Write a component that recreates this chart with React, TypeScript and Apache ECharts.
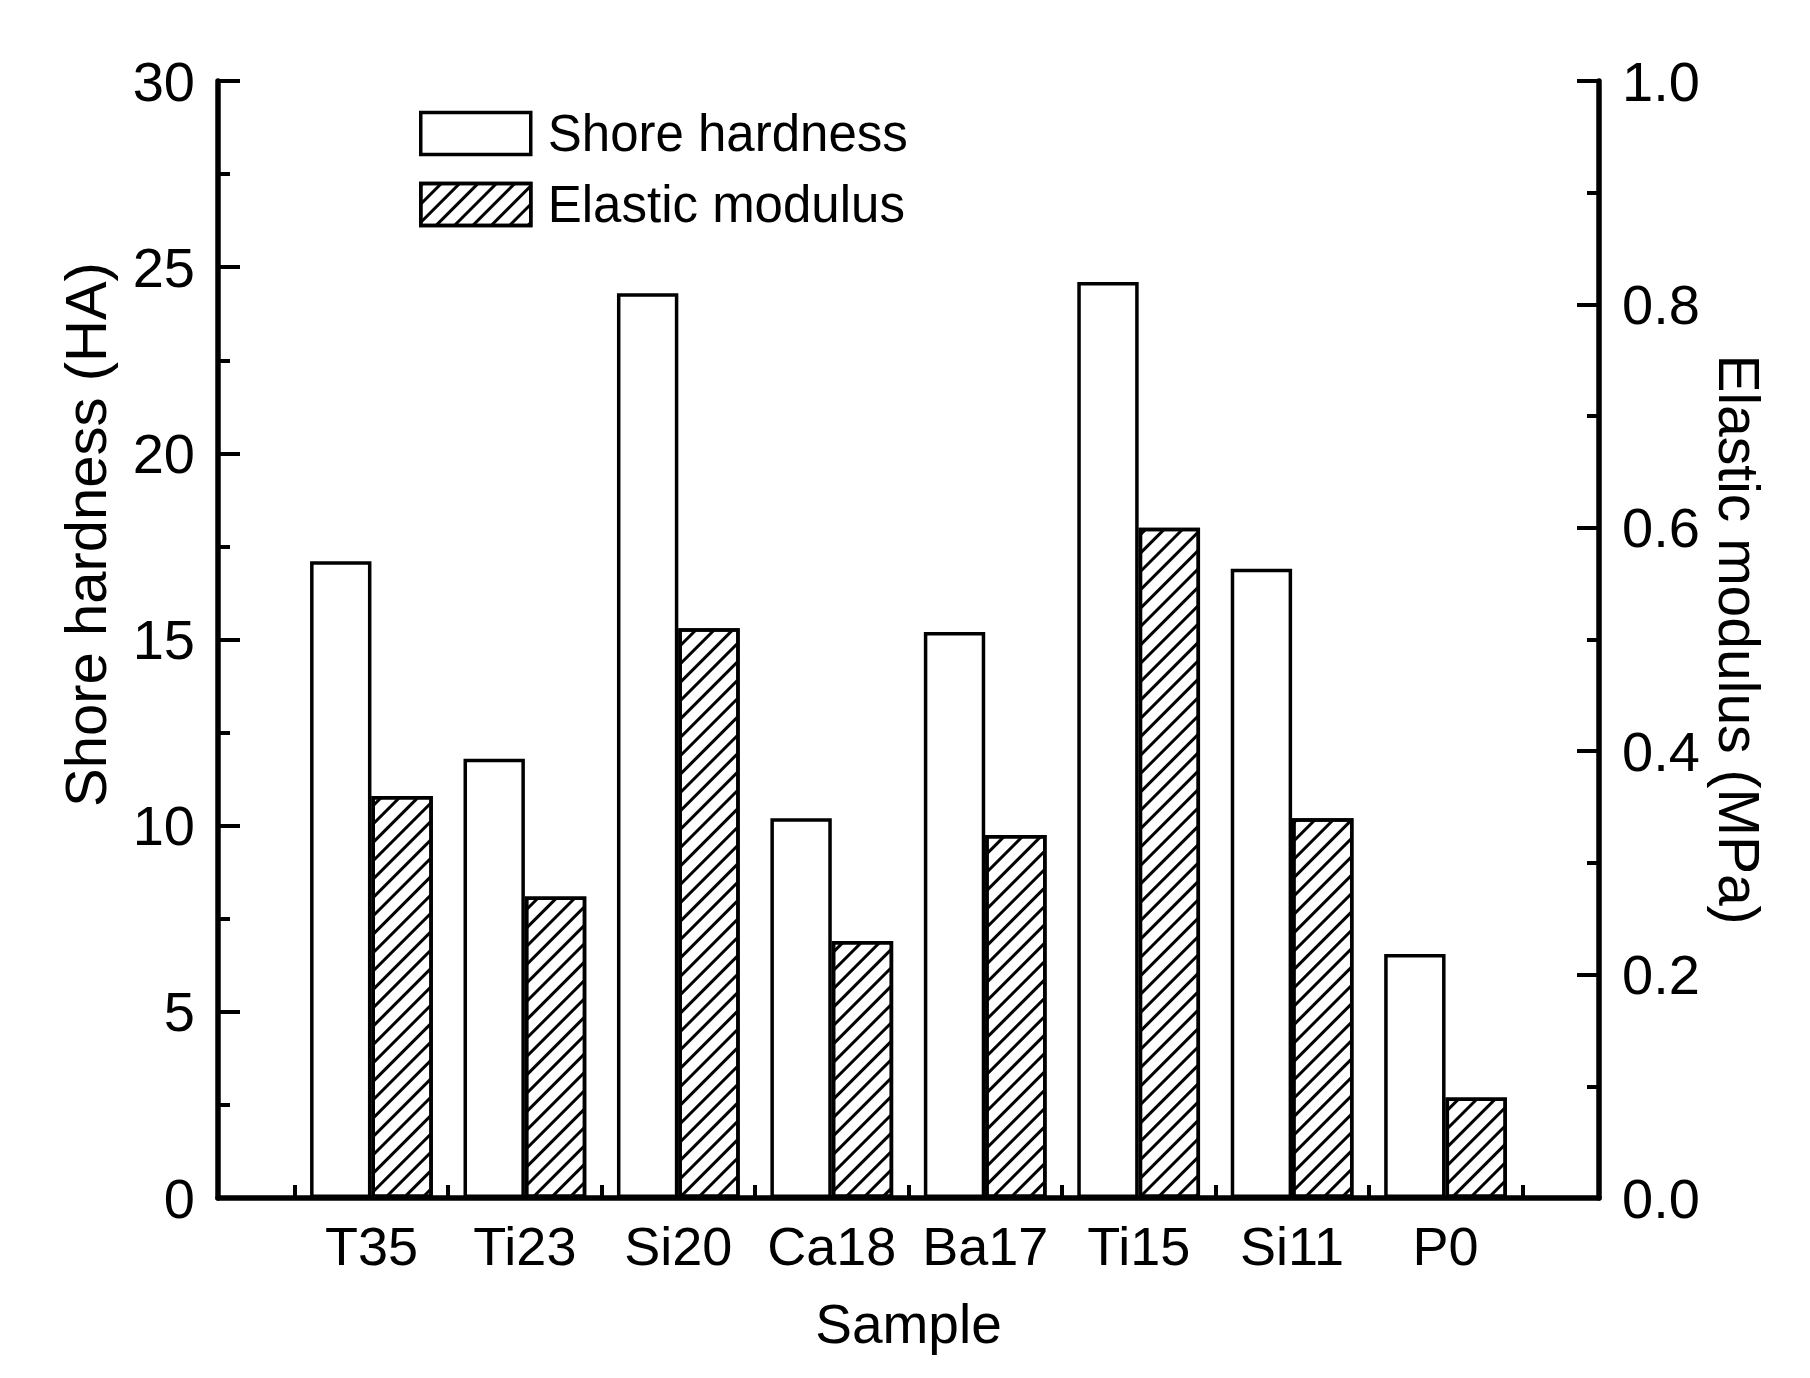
import React, { useEffect, useRef } from 'react';
import * as echarts from 'echarts';

const categories = ['T35', 'Ti23', 'Si20', 'Ca18', 'Ba17', 'Ti15', 'Si11', 'P0'];
const shoreHardness = [17.1, 11.8, 24.3, 10.2, 15.2, 24.6, 16.9, 6.55];
const elasticModulus = [0.36, 0.27, 0.51, 0.23, 0.325, 0.6, 0.34, 0.09];
const categoryPositions = [1, 2, 3, 4, 5, 6, 7, 8];
const categoryBoundaries = [0.5, 1.5, 2.5, 3.5, 4.5, 5.5, 6.5, 7.5, 8.5];
const seriesNames = ['Shore hardness', 'Elastic modulus'];

const FONT = "'Liberation Sans', Arial, Helvetica, sans-serif";

export default function App() {
  const ref = useRef<HTMLDivElement>(null);

  useEffect(() => {
    if (!ref.current) return;
    const chart = echarts.init(ref.current, null, { renderer: 'svg' });
    const hatch = {
      symbol: 'rect',
      symbolSize: 1,
      color: '#000',
      backgroundColor: '#fff',
      dashArrayX: [5, 0],
      dashArrayY: [3, 10],
      rotation: -Math.PI / 4,
    };
    const axisLine = { show: true, onZero: false, lineStyle: { color: '#000', width: 5.5 } };
    const option: any = {
      animation: false,
      backgroundColor: '#fff',
      textStyle: { fontFamily: FONT, color: '#000' },
      grid: { left: 218, right: 211, top: 81, bottom: 180, containLabel: false },
      legend: {
        orient: 'vertical',
        left: 414,
        top: 103,
        itemWidth: 110,
        itemHeight: 42,
        itemGap: 20,
        icon: 'rect',
        data: seriesNames,
        itemStyle: { borderColor: '#000', borderWidth: 3.5 },
        textStyle: { fontSize: 51, color: '#000', fontFamily: FONT, padding: [0, 0, 0, 12] },
      },
      xAxis: {
        type: 'value',
        min: 0,
        max: 9,
        name: 'Sample',
        nameLocation: 'middle',
        nameGap: 98,
        nameTextStyle: { fontSize: 55, color: '#000', fontFamily: FONT },
        axisLine,
        axisTick: {
          show: true,
          inside: true,
          length: 13,
          customValues: categoryBoundaries,
          lineStyle: { color: '#000', width: 4 },
        },
        axisLabel: {
          customValues: categoryPositions,
          margin: 21,
          fontSize: 54,
          color: '#000',
          fontFamily: FONT,
          formatter: (v: number) => categories[Math.round(v) - 1] ?? '',
        },
        splitLine: { show: false },
      },
      yAxis: [
        {
          type: 'value',
          position: 'left',
          min: 0,
          max: 30,
          interval: 5,
          name: 'Shore hardness (HA)',
          nameLocation: 'middle',
          nameGap: 104,
          nameTextStyle: { fontSize: 58, color: '#000', fontFamily: FONT, padding: [0, 0, 0, 210] },
          axisLine,
          axisTick: { show: true, inside: true, length: 22, lineStyle: { color: '#000', width: 4 } },
          minorTick: { show: true, splitNumber: 2, length: 12, lineStyle: { color: '#000', width: 4 } },
          axisLabel: { margin: 23, fontSize: 56, color: '#000', fontFamily: FONT },
          splitLine: { show: false },
        },
        {
          type: 'value',
          position: 'right',
          min: 0,
          max: 1,
          interval: 0.2,
          name: 'Elastic modulus (MPa)',
          nameLocation: 'middle',
          nameRotate: -90,
          nameGap: 108,
          nameTextStyle: { fontSize: 57, color: '#000', fontFamily: FONT },
          axisLine,
          axisTick: { show: true, inside: true, length: 22, lineStyle: { color: '#000', width: 4 } },
          minorTick: { show: true, splitNumber: 2, length: 12, lineStyle: { color: '#000', width: 4 } },
          axisLabel: {
            margin: 23,
            fontSize: 56,
            color: '#000',
            fontFamily: FONT,
            formatter: (v: number) => v.toFixed(1),
          },
          splitLine: { show: false },
        },
      ],
      series: [
        {
          type: 'bar',
          name: seriesNames[0],
          yAxisIndex: 0,
          barGap: '0%',
          barCategoryGap: '20%',
          data: categoryPositions.map((x, i) => [x, shoreHardness[i]]),
          itemStyle: { color: '#fff', borderColor: '#000', borderWidth: 3.5 },
        },
        {
          type: 'bar',
          name: seriesNames[1],
          yAxisIndex: 1,
          barGap: '0%',
          barCategoryGap: '20%',
          data: categoryPositions.map((x, i) => [x, elasticModulus[i]]),
          itemStyle: { color: '#fff', borderColor: '#000', borderWidth: 3.5, decal: hatch },
        },
      ],
    };
    chart.setOption(option);
    return () => chart.dispose();
  }, []);

  return (
    <div
      ref={ref}
      style={{ position: 'fixed', left: 0, top: 0, width: 1810, height: 1378, background: '#fff' }}
    />
  );
}
